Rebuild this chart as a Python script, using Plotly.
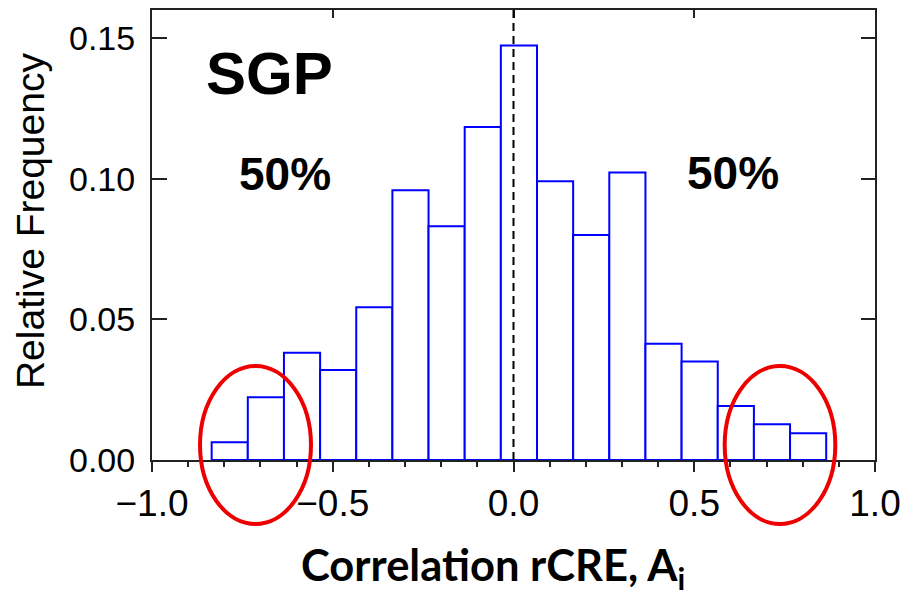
import plotly.graph_objects as go

# Histogram of rCRE correlation (SGP site): bin edges and relative frequency per bin
bin_edges = [-0.835, -0.735, -0.635, -0.535, -0.435, -0.335, -0.235, -0.135, -0.035,
             0.065, 0.165, 0.265, 0.365, 0.465, 0.565, 0.665, 0.765, 0.865]
rel_freq = [0.0063, 0.0223, 0.0381, 0.0320, 0.0543, 0.0959, 0.0831, 0.1184, 0.1474,
            0.0991, 0.0800, 0.1022, 0.0413, 0.0350, 0.0192, 0.0127, 0.0095]

x_tick_vals = [-1.0, -0.5, 0.0, 0.5, 1.0]
x_tick_text = ["\u22121.0", "\u22120.5", "0.0", "0.5", "1.0"]
y_tick_vals = [0.00, 0.05, 0.10, 0.15]
y_tick_text = ["0.00", "0.05", "0.10", "0.15"]

site_label = "SGP"
share_left = "50%"
share_right = "50%"

centers = [(a + b) / 2 for a, b in zip(bin_edges[:-1], bin_edges[1:])]
widths = [b - a for a, b in zip(bin_edges[:-1], bin_edges[1:])]

AX = "#222222"
TICK_FONT = "Liberation Sans, Arial, sans-serif"

fig = go.Figure()
fig.add_trace(go.Bar(
    x=centers, y=rel_freq, width=widths,
    marker=dict(color="white", line=dict(color="#0000FF", width=2)),
    showlegend=False, hoverinfo="x+y",
))
# helper trace so the mirrored top/right axes get drawn
fig.add_trace(go.Scatter(x=[None], y=[None], xaxis="x2", yaxis="y2", mode="markers",
                         showlegend=False, hoverinfo="skip"))

fig.update_layout(
    width=904, height=591,
    margin=dict(l=152, r=29, t=10, b=131),
    paper_bgcolor="white", plot_bgcolor="white",
    xaxis=dict(
        range=[-1, 1], tickvals=x_tick_vals, ticktext=x_tick_text,
        ticks="outside", ticklen=10, tickwidth=2, tickcolor=AX,
        showline=True, linecolor=AX, linewidth=2, showgrid=False, zeroline=False,
        layer="below traces", automargin=False,
        minor=dict(ticks="outside", ticklen=5, tickwidth=1.5, tickcolor=AX,
                   tick0=0, dtick=0.1, showgrid=False),
        tickfont=dict(family=TICK_FONT, size=37, color="black"),
        fixedrange=True,
    ),
    xaxis2=dict(
        range=[-1, 1], overlaying="x", side="top", tickvals=[-0.5, 0.0, 0.5],
        ticks="inside", ticklen=8, tickwidth=2, tickcolor=AX, showticklabels=False,
        showline=True, linecolor=AX, linewidth=2, showgrid=False, zeroline=False,
        automargin=False, fixedrange=True,
    ),
    yaxis=dict(
        range=[0, 0.16], tickvals=y_tick_vals, ticktext=y_tick_text,
        ticks="inside", ticklen=15, tickwidth=2, tickcolor=AX,
        showline=True, linecolor=AX, linewidth=2, showgrid=False, zeroline=False,
        ticklabelstandoff=8, automargin=False,
        tickfont=dict(family=TICK_FONT, size=34, color="black"),
        fixedrange=True,
    ),
    yaxis2=dict(
        range=[0, 0.16], overlaying="y", side="right", tickvals=y_tick_vals,
        ticks="inside", ticklen=14, tickwidth=2, tickcolor=AX, showticklabels=False,
        showline=True, linecolor=AX, linewidth=2, showgrid=False, zeroline=False,
        automargin=False, fixedrange=True,
    ),
)

# dashed reference line at zero correlation
fig.add_shape(type="line", xref="x", yref="y domain", x0=0, x1=0, y0=0, y1=1,
              line=dict(color="black", width=2, dash="8px,5px"), layer="above")

# red rings around the distribution tails
for x0, x1 in [(0.0664, 0.2199), (0.7921, 0.9451)]:
    fig.add_shape(type="circle", xref="paper", yref="paper",
                  x0=x0, x1=x1, y0=-0.1422, y1=0.2089,
                  line=dict(color="#EE0000", width=4), layer="above")

fig.add_annotation(text=f"<b>{site_label}</b>", xref="paper", yref="paper",
                   x=0.1632, y=0.86, xanchor="center", yanchor="middle", showarrow=False,
                   font=dict(family=TICK_FONT, size=60, color="black"))
fig.add_annotation(text=f"<b>{share_left}</b>", xref="paper", yref="paper",
                   x=0.184, y=0.6356, xanchor="center", yanchor="middle", showarrow=False,
                   font=dict(family=TICK_FONT, size=46, color="black"))
fig.add_annotation(text=f"<b>{share_right}</b>", xref="paper", yref="paper",
                   x=0.8036, y=0.6378, xanchor="center", yanchor="middle", showarrow=False,
                   font=dict(family=TICK_FONT, size=46, color="black"))

# axis titles
fig.add_annotation(text="Relative Frequency", xref="paper", yref="paper",
                   x=-0.1687, y=0.531, xanchor="center", yanchor="middle",
                   textangle=-90, showarrow=False,
                   font=dict(family=TICK_FONT, size=39, color="black"))
fig.add_annotation(text="<b>Correlation rCRE, A<sub>i</sub></b>", xref="paper", yref="paper",
                   x=0.4714, y=-0.238, xanchor="center", yanchor="middle", showarrow=False,
                   font=dict(family="Lato, sans-serif", size=43.5, color="black"))

fig.write_html("out.html")
